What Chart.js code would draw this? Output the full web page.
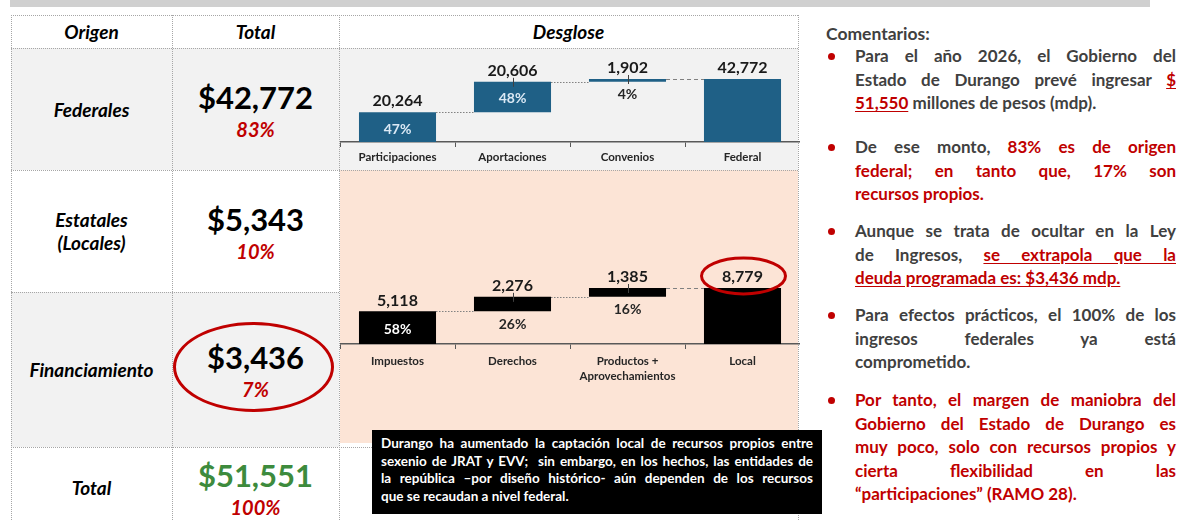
<!DOCTYPE html>
<html lang="es">
<head>
<meta charset="utf-8">
<script src="https://cdn.jsdelivr.net/npm/chart.js@4.4.1/dist/chart.umd.min.js"></script>
<style>
  body { margin: 0; width: 1179px; height: 520px; background: #fff; position: relative; overflow: hidden;
         font-family: 'Lato', 'Open Sans', sans-serif; color: #000; }
  .abs { position: absolute; }
  .cell { position: absolute; display: flex; flex-direction: column; align-items: center; justify-content: center;
          box-sizing: border-box; text-align: center; }
  .gray { background: #f2f2f2; }
  .hline { position: absolute; height: 0; border-top: 1px dotted #a6a6a6; }
  .vline { position: absolute; width: 0; border-left: 1px dotted #a6a6a6; }
  .head { font-weight: 700; font-style: italic; font-size: 19px; }
  .orig { font-weight: 700; font-style: italic; font-size: 19px; line-height: 23px; }
  .big { font-weight: 700; font-size: 31px; line-height: 34px; }
  .pct { font-weight: 700; font-style: italic; font-size: 20px; line-height: 24px; margin-top: 3px; color: #c00000; }
  #note { position: absolute; left: 372px; top: 430px; width: 450px; height: 84px; background: #000; color: #fff;
          box-sizing: border-box; padding: 5px 9px 0 9px; font-weight: 700; font-size: 13px; line-height: 17.5px; }
  .j { text-align: justify; text-align-last: justify; white-space: nowrap; }
  .l { text-align: left; white-space: nowrap; }
  .measure .j { text-align: left; text-align-last: left; }
  .ctitle { position: absolute; left: 826px; top: 23px; font-weight: 700; font-size: 17.5px; color: #404040; }
  .bul { position: absolute; left: 855px; width: 321px; font-weight: 700; font-size: 17px; line-height: 23.5px; color: #404040; }
  .bul::before { content: ''; position: absolute; left: -27px; top: 9px; width: 7px; height: 7px; border-radius: 50%; background: #c00000; }
  .r { color: #c00000; }
  .u { text-decoration: underline; text-underline-offset: 2px; }
  .ring { position: absolute; border: 3px solid #c00000; border-radius: 50%; box-sizing: border-box; }
</style>
</head>
<body>
<div class="abs" style="left:10px;top:0;width:1140px;height:7px;background:#d0d0d0;"></div>

<!-- table backgrounds -->
<div class="abs gray" style="left:11px;top:48px;width:787px;height:122px;"></div>
<div class="abs gray" style="left:11px;top:292px;width:328px;height:155px;"></div>
<div class="abs" style="left:340px;top:170px;width:458px;height:273px;background:#fce4d6;"></div>

<!-- grid lines -->
<div class="hline" style="left:11px;top:15px;width:787px;"></div>
<div class="hline" style="left:11px;top:48px;width:787px;"></div>
<div class="hline" style="left:11px;top:170px;width:787px;"></div>
<div class="hline" style="left:11px;top:292px;width:328px;"></div>
<div class="hline" style="left:11px;top:447px;width:787px;"></div>
<div class="vline" style="left:11px;top:15px;height:505px;"></div>
<div class="vline" style="left:172px;top:15px;height:505px;"></div>
<div class="vline" style="left:339px;top:15px;height:505px;"></div>
<div class="vline" style="left:798px;top:15px;height:505px;"></div>

<!-- headers -->
<div class="cell head" style="left:11px;top:15px;width:161px;height:33px;">Origen</div>
<div class="cell head" style="left:172px;top:15px;width:167px;height:33px;">Total</div>
<div class="cell head" style="left:339px;top:15px;width:459px;height:33px;">Desglose</div>

<div id="rows"></div>

<div class="ring" style="left:173px;top:322px;width:161px;height:90px;"></div>

<div class="abs" style="left:340px;top:50px;width:460px;height:120px;"><canvas id="fed"></canvas></div>
<div class="abs" style="left:340px;top:200px;width:460px;height:190px;"><canvas id="loc"></canvas></div>

<div id="note">
  <div class="j">Durango ha aumentado la captación local de recursos propios entre</div>
  <div class="j">sexenio de JRAT y EVV;&nbsp; sin embargo, en los hechos, las entidades de</div>
  <div class="j">la república –por diseño histórico- aún dependen de los recursos</div>
  <div class="l">que se recaudan a nivel federal.</div>
</div>

<div class="ctitle">Comentarios:</div>
<div class="bul" style="top:44px;">
  <div class="j">Para el año 2026, el Gobierno del</div>
  <div class="j">Estado de Durango prevé ingresar <span class="r u">$</span></div>
  <div class="l"><span class="r u">51,550</span> millones de pesos (mdp).</div>
</div>
<div class="bul" style="top:135px;">
  <div class="j">De ese monto, <span class="r">83% es de origen</span></div>
  <div class="j r">federal; en tanto que, 17% son</div>
  <div class="l r">recursos propios.</div>
</div>
<div class="bul" style="top:219px;">
  <div class="j">Aunque se trata de ocultar en la Ley</div>
  <div class="j">de Ingresos, <span class="r u">se extrapola que la</span></div>
  <div class="l"><span class="r u">deuda programada es: $3,436 mdp.</span></div>
</div>
<div class="bul" style="top:303px;">
  <div class="j">Para efectos prácticos, el 100% de los</div>
  <div class="j">ingresos federales ya está</div>
  <div class="l">comprometido.</div>
</div>
<div class="bul r" style="top:388px;">
  <div class="j">Por tanto, el margen de maniobra del</div>
  <div class="j">Gobierno del Estado de Durango es</div>
  <div class="j">muy poco, solo con recursos propios y</div>
  <div class="j">cierta flexibilidad en las</div>
  <div class="l">“participaciones” (RAMO 28).</div>
</div>

<script>
// table values (mdp)
const origenRows = [['Federales'], ['Estatales', '(Locales)'], ['Financiamiento'], ['Total']];
const origenTotals = [42772, 5343, 3436, 51551];
const origenShares = ['83%', '10%', '7%', '100%'];

// federal breakdown
const fedLabels = ['Participaciones', 'Aportaciones', 'Convenios', 'Federal'];
const fedValues = [20264, 20606, 1902];
const fedShares = ['47%', '48%', '4%'];

// local breakdown
const locLabels = ['Impuestos', 'Derechos', ['Productos +', 'Aprovechamientos'], 'Local'];
const locValues = [5118, 2276, 1385];
const locShares = ['58%', '26%', '16%'];

const rowTops = [48, 170, 292, 447];
const rowHeights = [122, 122, 155, 80];
const rows = document.getElementById('rows');
origenRows.forEach((lines, i) => {
  const a = document.createElement('div');
  a.className = 'cell orig';
  a.style.cssText = `left:11px;top:${rowTops[i]}px;width:161px;height:${rowHeights[i]}px;`;
  a.innerHTML = lines.join('<br>');
  rows.appendChild(a);
  const b = document.createElement('div');
  b.className = 'cell';
  b.style.cssText = `left:172px;top:${rowTops[i]}px;width:167px;height:${rowHeights[i]}px;padding-top:2px;`;
  const color = i === origenRows.length - 1 ? '#3d8b3d' : '#000';
  b.innerHTML = `<div class="big" style="color:${color}">$${origenTotals[i].toLocaleString('en-US')}</div>` +
                `<div class="pct">${origenShares[i]}</div>`;
  rows.appendChild(b);
});

// shrink justified text blocks so their widest line just fits
function fitLines(selector, width, baseSize) {
  const blocks = document.querySelectorAll(selector);
  document.body.classList.add('measure');
  let widest = 0;
  blocks.forEach(b => b.querySelectorAll('.j, .l').forEach(line => {
    const s = document.createElement('span');
    while (line.firstChild) s.appendChild(line.firstChild);
    line.appendChild(s);
    widest = Math.max(widest, s.getBoundingClientRect().width);
  }));
  document.body.classList.remove('measure');
  const size = Math.min(baseSize, baseSize * width / widest);
  blocks.forEach(b => { b.style.fontSize = size.toFixed(2) + 'px'; });
}
fitLines('.bul', 318, 17);
fitLines('#note', 428, 13.5);

function waterfall(values) {
  let run = 0;
  const segs = values.map(v => { const s = [run, run + v]; run += v; return s; });
  segs.push([0, run]);
  return segs;
}

const waterfallLabels = {
  id: 'waterfallLabels',
  afterDatasetsDraw(chart, args, opts) {
    const ctx = chart.ctx;
    const y = chart.scales.y;
    const meta = chart.getDatasetMeta(0);
    const data = chart.data.datasets[0].data;
    const n = meta.data.length;
    ctx.save();
    meta.data.forEach((bar, i) => {
      const [lo, hi] = data[i];
      const topPx = y.getPixelForValue(hi);
      const botPx = y.getPixelForValue(lo);
      const right = bar.x + bar.width / 2;
      // connector to next bar
      if (i < n - 1) {
        const next = meta.data[i + 1];
        ctx.strokeStyle = '#808080';
        ctx.lineWidth = 1;
        ctx.setLineDash(i === n - 2 ? [4, 3] : [1.5, 1.5]);
        ctx.beginPath();
        ctx.moveTo(right, Math.round(topPx) + 0.5);
        ctx.lineTo(next.x - next.width / 2, Math.round(topPx) + 0.5);
        ctx.stroke();
        ctx.setLineDash([]);
      }
      // leader line for floating bars
      if (i > 0 && i < n - 1) {
        ctx.strokeStyle = '#404040';
        ctx.lineWidth = 1;
        ctx.beginPath();
        ctx.moveTo(Math.round(bar.x) + 0.5, topPx - 4);
        ctx.lineTo(Math.round(bar.x) + 0.5, topPx + 5);
        ctx.stroke();
      }
      // value label
      ctx.fillStyle = '#1a1a1a';
      ctx.font = "bold 16px Lato, 'Open Sans', sans-serif";
      ctx.textAlign = 'center';
      ctx.textBaseline = 'middle';
      ctx.fillText((hi - lo).toLocaleString('en-US'), bar.x, topPx - 11);
      // share label
      const share = opts.shares[i];
      if (share) {
        ctx.font = "bold 14px Lato, 'Open Sans', sans-serif";
        if (botPx - topPx > 24) {
          ctx.fillStyle = opts.insideColor;
          ctx.fillText(share, bar.x, (topPx + botPx) / 2 + 2);
        } else {
          ctx.fillStyle = '#262626';
          ctx.fillText(share, bar.x, botPx + 13);
        }
      }
      // highlight ring
      if (opts.ringIndex === i) {
        ctx.strokeStyle = '#c00000';
        ctx.lineWidth = 3;
        ctx.beginPath();
        ctx.ellipse(bar.x + 1, topPx - 12, 42, 18, 0, 0, Math.PI * 2);
        ctx.stroke();
      }
    });
    ctx.restore();
  }
};

function makeChart(id, labels, values, shares, color, insideColor, yMax, axisHeight, tickPad, ringIndex) {
  return new Chart(document.getElementById(id).getContext('2d'), {
    type: 'bar',
    data: {
      labels: labels,
      datasets: [{
        data: waterfall(values),
        backgroundColor: color,
        borderWidth: 0,
        borderSkipped: false,
        barPercentage: 0.67,
        categoryPercentage: 1.0
      }]
    },
    options: {
      responsive: true,
      maintainAspectRatio: false,
      animation: false,
      layout: { padding: 0 },
      plugins: {
        legend: { display: false },
        tooltip: { enabled: false },
        waterfallLabels: { shares: shares, insideColor: insideColor, ringIndex: ringIndex }
      },
      scales: {
        x: {
          grid: { display: true, drawOnChartArea: false, drawTicks: true, tickLength: 5, color: '#595959', offset: true },
          border: { display: true, color: '#595959', width: 1.5 },
          ticks: {
            color: '#262626',
            font: { family: 'Lato', weight: 'bold', size: 11.5, lineHeight: 1.3 },
            padding: tickPad,
            maxRotation: 0,
            autoSkip: false
          },
          afterFit(scale) { scale.height = axisHeight; }
        },
        y: { display: false, min: 0, max: yMax }
      }
    },
    plugins: [waterfallLabels]
  });
}

makeChart('fed', fedLabels, fedValues, fedShares, '#1f6086', '#dbe9f5', 62460, 28, 3, -1);
makeChart('loc', locLabels, locValues, locShares, '#000000', '#ffffff', 22575, 46, 5, 3);
</script>
</body>
</html>
